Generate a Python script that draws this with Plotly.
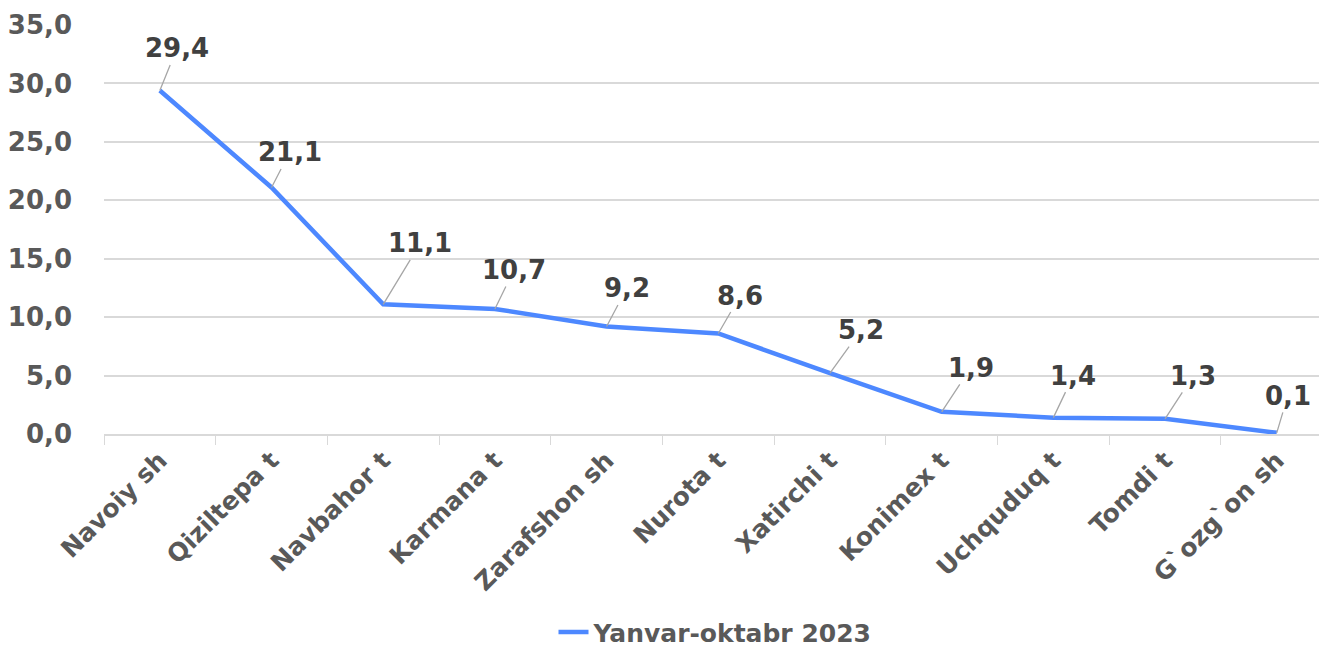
import plotly.graph_objects as go

categories = ["Navoiy sh", "Qiziltepa t", "Navbahor t", "Karmana t", "Zarafshon sh",
              "Nurota t", "Xatirchi t", "Konimex t", "Uchquduq t", "Tomdi t", "G`ozg`on sh"]
values = [29.4, 21.1, 11.1, 10.7, 9.2, 8.6, 5.2, 1.9, 1.4, 1.3, 0.1]
series_name = "Yanvar-oktabr 2023"
y_ticks = [0, 5, 10, 15, 20, 25, 30, 35]

# label offsets in pixels (style, matching manual label placement)
label_dx = [17, 18, 37, 19, 20, 22, 31, 29, 20, 28, 11]
label_dy = [-42, -35, -61, -39, -38, -38, -43, -44, -42, -43, -37]

FONT = "DejaVu Sans"
LINE_COLOR = "#4d88ff"

fig = go.Figure()
fig.add_trace(go.Scatter(
    x=categories, y=values, mode="lines", name=series_name,
    line=dict(color=LINE_COLOR, width=4.5),
    hoverinfo="x+y",
))

for c, v, dx, dy in zip(categories, values, label_dx, label_dy):
    fig.add_annotation(
        x=c, y=v, xref="x", yref="y",
        text="<b>" + f"{v:.1f}".replace(".", ",") + "</b>",
        showarrow=True, arrowhead=0, arrowwidth=1.3, arrowcolor="#a6a6a6",
        ax=dx, ay=dy, standoff=0, startstandoff=0,
        font=dict(family=FONT, size=26, color="#404040"),
    )

# the page body has an 8px default margin, so the figure is sized to fit
fig.update_layout(
    width=1319, height=642,
    margin=dict(l=96, r=0, t=17, b=216, autoexpand=False),
    paper_bgcolor="white", plot_bgcolor="white",
    separators=", ",
    showlegend=True,
    legend=dict(
        orientation="h", x=0.5, xanchor="center", y=-0.485, yanchor="middle",
        font=dict(family=FONT, size=25, color="#595959", weight="bold"),
    ),
    xaxis=dict(
        type="category", range=[-0.5, 10.45], automargin=False,
        tickson="boundaries", ticks="outside", ticklen=9, tickcolor="#d9d9d9",
        showgrid=False, showline=True, linecolor="#d9d9d9", linewidth=1.5,
        tickangle=-45,
        tickfont=dict(family=FONT, size=25, color="#595959", weight="bold"),
    ),
    yaxis=dict(
        range=[0, 35], tickvals=y_ticks, tickformat=".1f", automargin=False,
        showgrid=True, gridcolor="#d9d9d9", gridwidth=1.5,
        zeroline=False, showline=False, ticks="",
        ticklabelstandoff=31,
        tickfont=dict(family=FONT, size=26, color="#595959", weight="bold"),
    ),
)

fig.write_html("out.html")
